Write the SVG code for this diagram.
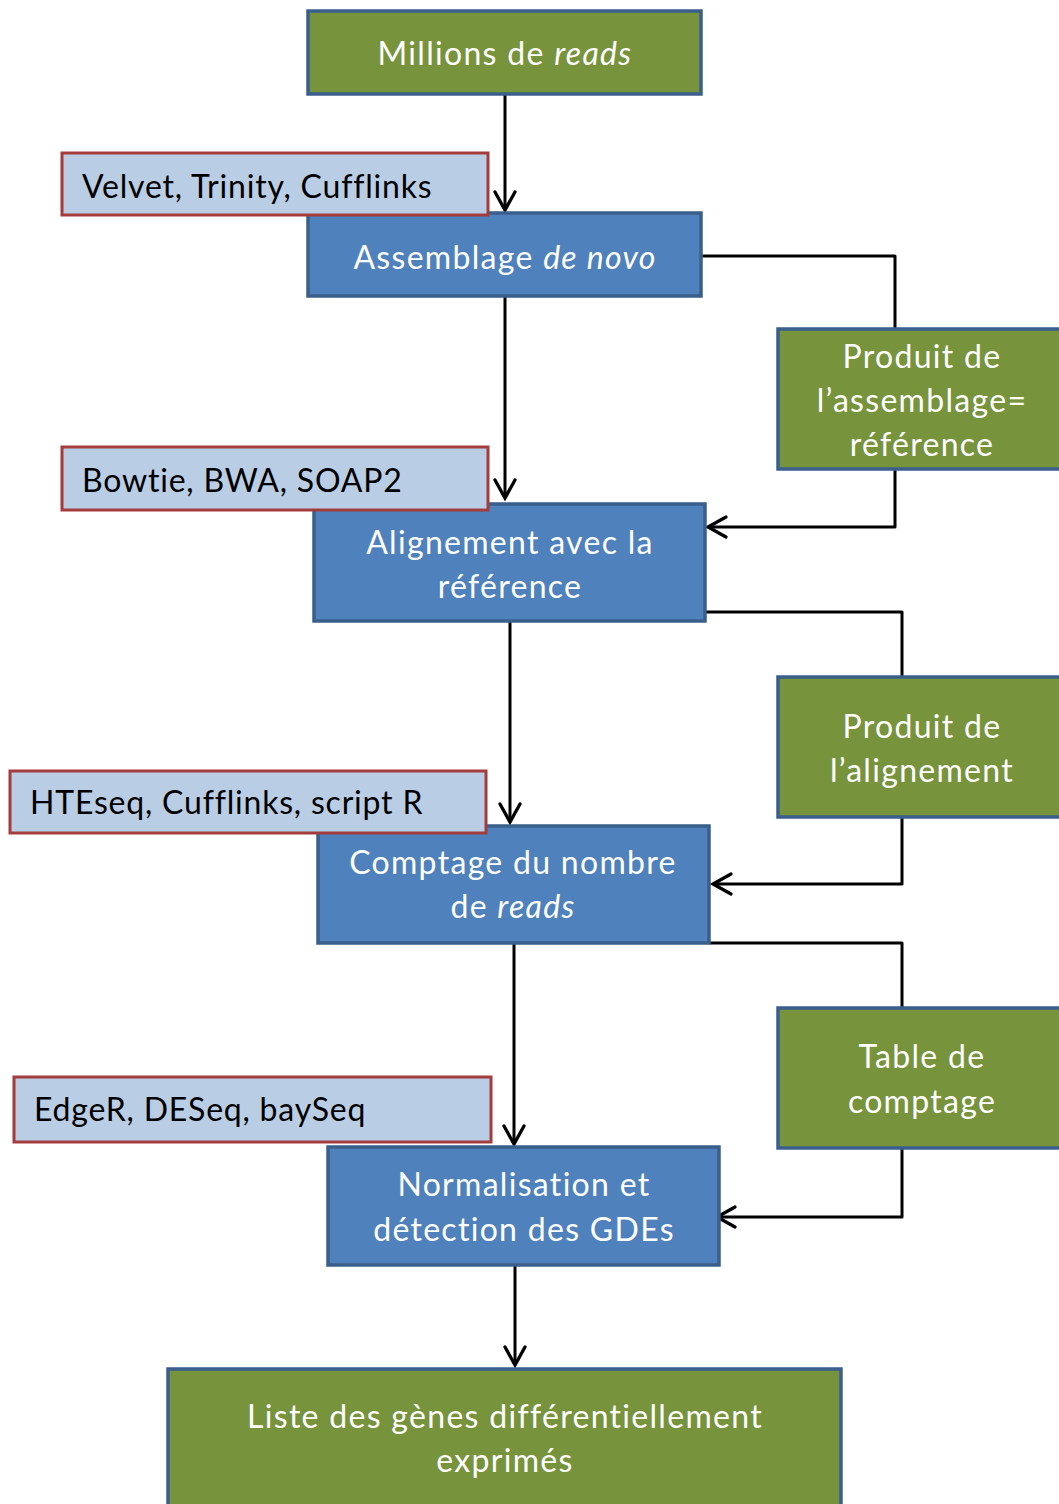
<svg xmlns="http://www.w3.org/2000/svg" width="1059" height="1504" viewBox="0 0 1059 1504">
  <style>
    .green { fill: #77933C; stroke: #3B5F8C; stroke-width: 3.5; }
    .blue { fill: #4F81BD; stroke: #3A5F8B; stroke-width: 3.5; }
    .tool { fill: #B9CDE5; stroke: #A33C3C; stroke-width: 3; }
    .wt { font-family: Lato, "Open Sans", sans-serif; font-size: 32px; letter-spacing: 1.3px; fill: #FFFFFF; text-anchor: middle; }
    .bk { font-family: Lato, "Open Sans", sans-serif; font-size: 32px; letter-spacing: 0.8px; fill: #000000; }
    .edge { fill: none; stroke: #000000; stroke-width: 3; stroke-linejoin: round; }
  </style>
  <defs>
    <marker id="arrow" markerUnits="userSpaceOnUse" viewBox="-24 -13 28 26" refX="0" refY="0" markerWidth="28" markerHeight="26" orient="auto" overflow="visible">
      <path d="M-18,-10 L0,0 L-18,10" fill="none" stroke="#000000" stroke-width="3.3" stroke-linecap="round" stroke-linejoin="miter"/>
    </marker>
  </defs>
  <rect width="1059" height="1504" fill="#FFFFFF"/>

  <!-- connectors -->
  <g id="connectors">
    <path class="edge" d="M505,94 V210" marker-end="url(#arrow)"/>
    <path class="edge" d="M505,296 V498" marker-end="url(#arrow)"/>
    <path class="edge" d="M702,256 H895 V328"/>
    <path class="edge" d="M895,469 V527 H708" marker-end="url(#arrow)"/>
    <path class="edge" d="M510,621 V822" marker-end="url(#arrow)"/>
    <path class="edge" d="M706,612 H902 V677"/>
    <path class="edge" d="M902,817 V884 H713" marker-end="url(#arrow)"/>
    <path class="edge" d="M514,943 V1144" marker-end="url(#arrow)"/>
    <path class="edge" d="M710,943 H902 V1008"/>
    <path class="edge" d="M902,1148 V1217 H717" marker-end="url(#arrow)"/>
    <path class="edge" d="M515,1265 V1365" marker-end="url(#arrow)"/>
  </g>

  <g id="reads">
    <rect class="green" x="308" y="11" width="393" height="83"/>
    <text class="wt" x="505" y="65">Millions de <tspan font-style="italic">reads</tspan></text>
  </g>

  <g id="assemblage">
    <rect class="blue" x="308" y="213" width="393" height="83"/>
    <text class="wt" x="505" y="269">Assemblage <tspan font-style="italic">de novo</tspan></text>
  </g>

  <g id="tools-assemblage">
    <rect class="tool" x="62" y="153" width="426" height="62"/>
    <text class="bk" x="82" y="198">Velvet, Trinity, Cufflinks</text>
  </g>

  <g id="produit-assemblage">
    <rect class="green" x="778" y="329" width="300" height="140"/>
    <text class="wt" x="922" y="368">Produit de</text>
    <text class="wt" x="922" y="412">l’assemblage=</text>
    <text class="wt" x="922" y="456">référence</text>
  </g>

  <g id="alignement">
    <rect class="blue" x="314" y="504" width="391" height="117"/>
    <text class="wt" x="510" y="554">Alignement avec la</text>
    <text class="wt" x="510" y="598">référence</text>
  </g>

  <g id="tools-alignement">
    <rect class="tool" x="62" y="447" width="426" height="63"/>
    <text class="bk" x="82" y="492">Bowtie, BWA, SOAP2</text>
  </g>

  <g id="produit-alignement">
    <rect class="green" x="778" y="677" width="300" height="140"/>
    <text class="wt" x="922" y="738">Produit de</text>
    <text class="wt" x="922" y="782">l’alignement</text>
  </g>

  <g id="comptage">
    <rect class="blue" x="318" y="826" width="391" height="117"/>
    <text class="wt" x="513" y="874">Comptage du nombre</text>
    <text class="wt" x="513" y="918">de <tspan font-style="italic">reads</tspan></text>
  </g>

  <g id="tools-comptage">
    <rect class="tool" x="10" y="771" width="476" height="62"/>
    <text class="bk" x="30" y="814">HTEseq, Cufflinks, script R</text>
  </g>

  <g id="table-comptage">
    <rect class="green" x="778" y="1008" width="300" height="140"/>
    <text class="wt" x="922" y="1068">Table de</text>
    <text class="wt" x="922" y="1113">comptage</text>
  </g>

  <g id="normalisation">
    <rect class="blue" x="328" y="1147" width="391" height="118"/>
    <text class="wt" x="524" y="1196">Normalisation et</text>
    <text class="wt" x="524" y="1241">détection des GDEs</text>
  </g>

  <g id="tools-normalisation">
    <rect class="tool" x="14" y="1077" width="477" height="65"/>
    <text class="bk" x="34" y="1121">EdgeR, DESeq, baySeq</text>
  </g>

  <g id="liste">
    <rect class="green" x="168" y="1369" width="673" height="150"/>
    <text class="wt" x="505" y="1428">Liste des gènes différentiellement</text>
    <text class="wt" x="505" y="1472">exprimés</text>
  </g>
</svg>
